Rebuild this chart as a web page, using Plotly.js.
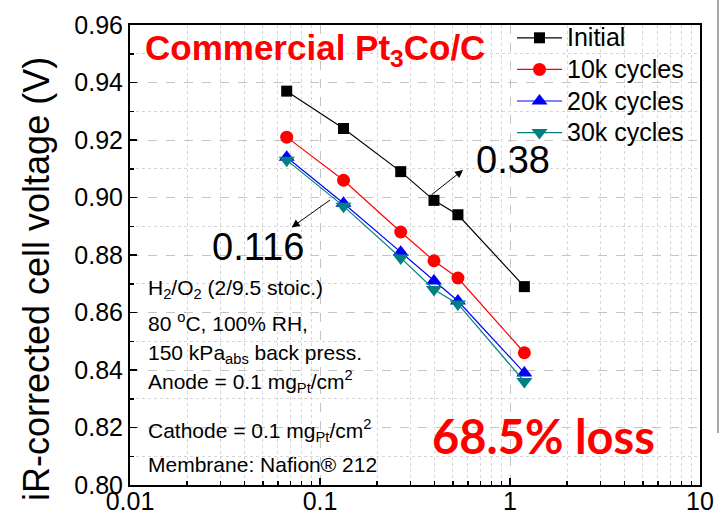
<!DOCTYPE html>
<html>
<head>
<meta charset="utf-8">
<script src="https://cdn.plot.ly/plotly-3.0.1.min.js"></script>
<style>html,body{margin:0;padding:0;background:#fff;}#chart{width:720px;height:518px;}</style>
</head>
<body>
<div id="chart"></div>
<script>
// Current density (A/cm2) — shared x values
const currentDensity = [0.0668, 0.133, 0.266, 0.398, 0.532, 1.19];
// iR-corrected cell voltage (V)
const initialV = [0.937, 0.924, 0.909, 0.899, 0.894, 0.869];
const cycles10kV = [0.921, 0.906, 0.888, 0.878, 0.872, 0.846];
const cycles20kV = [0.914, 0.898, 0.881, 0.871, 0.864, 0.839];
const cycles30kV = [0.913, 0.897, 0.879, 0.868, 0.863, 0.836];
const seriesNames = ['Initial', '10k cycles', '20k cycles', '30k cycles'];
const xTickVals = [0.01, 0.1, 1, 10];
const xTickText = ['0.01', '0.1', '1', '10'];
const xMinorVals = [0.02,0.03,0.04,0.05,0.06,0.07,0.08,0.09,0.2,0.3,0.4,0.5,0.6,0.7,0.8,0.9,2,3,4,5,6,7,8,9];
// Tafel slope annotation anchor points (A/cm2, V)
const tafelHigh = {label: '0.38', from: [0.379, 0.9005], to: [0.566, 0.9096]};
const tafelLow = {label: '0.116', from: [0.115, 0.8995], to: [0.0709, 0.8896]};

const FONT = 'Arial, "Liberation Sans", sans-serif';
const L = 130, T = 25, W = 570, H = 460;
const px = x => (x - L) / W;
const py = y => (T + H - y) / H;

function mk(name, y, color, symbol, size) {
  return {
    x: currentDensity, y: y, name: '<span style="font-size:25px">' + name + '</span>',
    type: 'scatter', mode: 'lines+markers',
    line: {color: color, width: 1.2},
    marker: {symbol: symbol, size: size, color: color, line: {width: 0}}
  };
}
const traces = [
  mk(seriesNames[0], initialV, '#000000', 'square', 11),
  mk(seriesNames[1], cycles10kV, '#ff0000', 'circle', 13),
  mk(seriesNames[2], cycles20kV, '#0000ff', 'triangle-up', 14),
  mk(seriesNames[3], cycles30kV, '#008080', 'triangle-down', 14)
];

const infoLines = [
  ['H<sub>2</sub>/O<sub>2</sub> (2/9.5 stoic.)', 289],
  ['80 <sup>o</sup>C, 100% RH,', 322],
  ['150 kPa<sub>abs</sub> back press.', 354],
  ['Anode = 0.1 mg<sub>Pt</sub>/cm<sup>2</sup>', 381],
  ['Cathode = 0.1 mg<sub>Pt</sub>/cm<sup>2</sup>', 430],
  ['Membrane: Nafion® 212', 464]
];

const annotations = [];
infoLines.forEach(([t, y]) => annotations.push({
  xref: 'paper', yref: 'paper', x: px(146), y: py(y), xanchor: 'left', yanchor: 'middle',
  text: t, showarrow: false, font: {family: FONT, size: 21, color: '#000'}
}));
[tafelHigh, tafelLow].forEach(a => annotations.push({
  xref: 'x', yref: 'y', axref: 'x', ayref: 'y',
  x: Math.log10(a.to[0]), y: a.to[1], ax: Math.log10(a.from[0]), ay: a.from[1],
  text: '', showarrow: true, arrowhead: 2, arrowsize: 1.6, arrowwidth: 1, arrowcolor: '#000', standoff: 0, startstandoff: 0
}));
annotations.push(
  {xref: 'paper', yref: 'paper', x: px(474), y: py(160), xanchor: 'left', yanchor: 'middle',
   text: tafelHigh.label, showarrow: false, font: {family: FONT, size: 38, color: '#000'}},
  {xref: 'paper', yref: 'paper', x: px(210), y: py(247), xanchor: 'left', yanchor: 'middle',
   text: tafelLow.label, showarrow: false, font: {family: FONT, size: 38, color: '#000'}},
  {xref: 'paper', yref: 'paper', x: px(143), y: py(50), xanchor: 'left', yanchor: 'middle',
   text: '<b>Commercial Pt<sub>3</sub>Co/C</b>', showarrow: false, font: {family: FONT, size: 35, color: '#ff0000'}},
  {xref: 'paper', yref: 'paper', x: px(430), y: py(436), xanchor: 'left', yanchor: 'middle',
   text: '<b>68.5% loss</b>', showarrow: false, font: {family: 'Lato, "Open Sans", sans-serif', size: 47, color: '#ff0000'}},
  {xref: 'paper', yref: 'paper', x: px(36), y: py(279), xanchor: 'center', yanchor: 'middle', textangle: -90,
   text: 'iR-corrected cell voltage (V)', showarrow: false, font: {family: FONT, size: 36, color: '#000'}}
);

const layout = {
  width: 720, height: 518,
  margin: {l: L, r: 720 - L - W, t: T, b: 518 - T - H},
  paper_bgcolor: '#fff', plot_bgcolor: '#fff',
  showlegend: true,
  legend: {x: px(512), y: py(17), xanchor: 'left', yanchor: 'top', bgcolor: 'rgba(0,0,0,0)',
           font: {family: FONT, size: 22, color: '#000'}, tracegroupgap: 0, itemwidth: 45},
  xaxis: {
    type: 'log', range: [-2, 1], tickmode: 'array', tickvals: xTickVals, ticktext: xTickText,
    showline: true, linecolor: '#000', linewidth: 2, mirror: true,
    ticks: 'inside', ticklen: 7, tickwidth: 1.5, tickcolor: '#000', ticklabelstandoff: -7,
    tickfont: {family: FONT, size: 25, color: '#000'},
    showgrid: true, gridcolor: '#c4c4c4', gridwidth: 1, griddash: 'dash',
    minor: {tickvals: xMinorVals, ticks: 'inside', ticklen: 4, tickcolor: '#000', showgrid: true, gridcolor: '#d6d6d6', griddash: 'dot', gridwidth: 1},
    zeroline: false, fixedrange: true
  },
  yaxis: {
    range: [0.80, 0.96], dtick: 0.02, tick0: 0.8, tickformat: '.2f',
    showline: true, linecolor: '#000', linewidth: 2, mirror: true,
    ticks: 'inside', ticklen: 7, tickwidth: 1.5, tickcolor: '#000',
    tickfont: {family: FONT, size: 25, color: '#000'},
    showgrid: true, gridcolor: '#c4c4c4', gridwidth: 1, griddash: 'dash',
    minor: {dtick: 0.01, ticks: 'inside', ticklen: 4, tickcolor: '#000', showgrid: true, gridcolor: '#d6d6d6', griddash: 'dot', gridwidth: 1},
    zeroline: false, fixedrange: true
  },
  annotations: annotations,
  shapes: [
    {type: 'line', xref: 'paper', yref: 'paper', x0: px(718), x1: px(718), y0: py(0), y1: py(433),
     line: {color: '#8a8a8a', width: 1.5}}
  ]
};

Plotly.newPlot('chart', traces, layout, {staticPlot: true, displayModeBar: false});
</script>
</body>
</html>
